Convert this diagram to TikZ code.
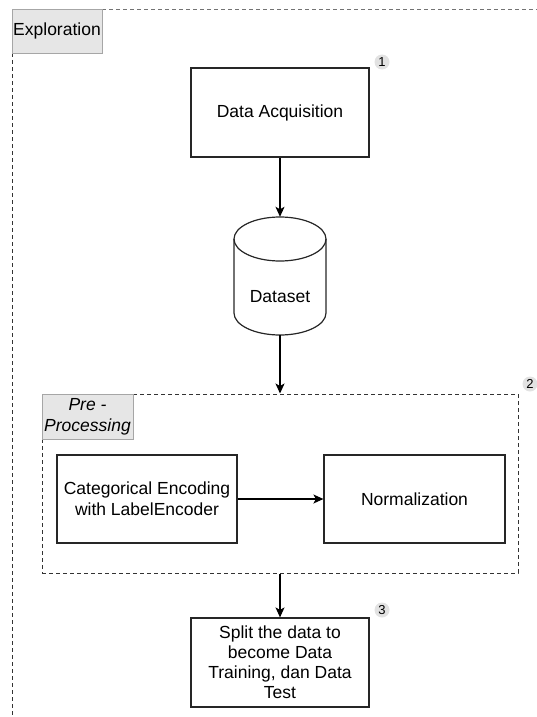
\documentclass[tikz,border=0pt]{standalone}
\usepackage{fontspec}
\setmainfont{Liberation Sans}
\usetikzlibrary{arrows.meta}
\definecolor{lanegray}{HTML}{E6E6E6}
\definecolor{laneborder}{HTML}{A6A6A6}
\definecolor{badgegray}{HTML}{E2E2E2}
\begin{document}
\begin{tikzpicture}[x=1pt,y=-1pt,
  txt/.style={font=\fontsize{17.5}{20}\selectfont},
  procbox/.style={draw=black!85, line width=1.2pt, fill=white, txt, align=center, inner sep=2pt},
  lanelabel/.style={draw=laneborder, fill=lanegray, line width=0.8pt, txt, inner sep=0pt},
  badge/.style={circle, fill=badgegray, inner sep=0pt, minimum size=15pt, font=\fontsize{13}{13}\selectfont},
  flow/.style={line width=1.2pt, black, -{Stealth[length=10pt,width=9pt,inset=2.5pt]}},
  frame/.style={dash pattern=on 4pt off 3pt, line width=1pt, black!80}
]
\useasboundingbox (0,0) rectangle (537,717);
% outer swimlane
\draw[dash pattern=on 4pt off 3pt, line width=0.8pt, black!55] (102,9) -- (540,9);
\draw[frame] (12,53) -- (12,720);
\node[lanelabel, minimum width=90pt, minimum height=44pt, anchor=north west] (explab) at (12,9) {};
\node[txt, anchor=center] (exptext) at (57,31) {Exploration};

% top box
\node[procbox, minimum width=178pt, minimum height=89pt] (da) at (280,112.5) {Data Acquisition};
\node[badge] (b1) at (382,62) {1};

% cylinder
\node[minimum width=92pt, minimum height=118pt, inner sep=0pt] (ds) at (280,276) {};
\draw[black!85, line width=1.2pt] (234,239) -- (234,313)
  .. controls (234,325.15) and (254.6,335) .. (280,335)
  .. controls (305.4,335) and (326,325.15) .. (326,313) -- (326,239);
\draw[black!85, line width=1.2pt] (280,239) ellipse [x radius=46pt, y radius=22pt];
\node[txt] (dstext) at (280,297) {Dataset};

% pre-processing frame
\node[frame, draw, minimum width=476pt, minimum height=179pt, inner sep=0pt] (pre) at (280,483.5) {};
\node[lanelabel, minimum width=91pt, minimum height=45pt, anchor=north west] (prelab) at (42,394) {};
\node[txt, font=\fontsize{17.5}{21}\selectfont\itshape, align=center] (pretext) at (87.5,417) {Pre -\\Processing};
\node[badge] (b2) at (530,384) {2};

\node[procbox, minimum width=180pt, minimum height=88pt] (cat) at (147,499) {Categorical Encoding\\[1pt]with LabelEncoder};
\node[procbox, minimum width=181pt, minimum height=88pt] (norm) at (414.5,499) {Normalization};

% bottom box
\node[procbox, minimum width=178pt, minimum height=89pt, font=\fontsize{17.5}{20}\selectfont] (split) at (280,662.5) {Split the data to\\become Data\\Training, dan Data\\Test};
\node[badge] (b3) at (382,610) {3};

% connectors
\draw[flow] (da.south) -- (ds.north);
\draw[flow] (ds.south) -- (pre.north);
\draw[flow] (cat.east) -- (norm.west);
\draw[flow] (pre.south) -- (split.north);
\end{tikzpicture}
\end{document}
